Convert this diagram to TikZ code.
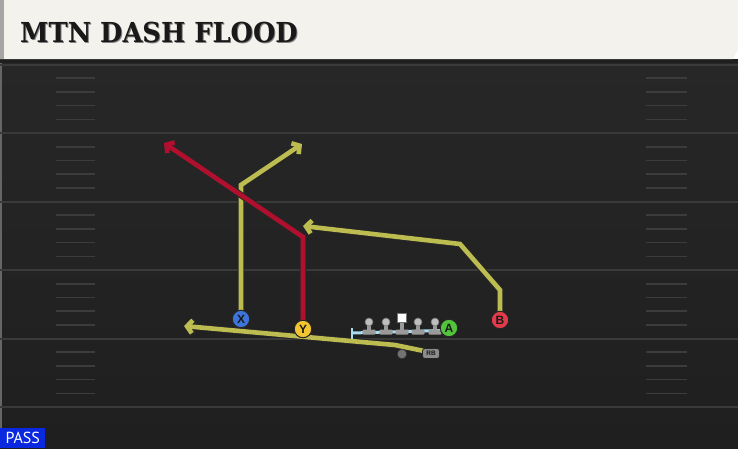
\documentclass[tikz,border=0pt]{standalone}
\usepackage{fontspec}
\usetikzlibrary{arrows.meta}
\newfontfamily\titlefont{DejaVu Serif}
\newfontfamily\lblfont{Liberation Sans}
\newfontfamily\passfont{PT Sans}
\definecolor{fieldtop}{HTML}{272727}
\definecolor{fieldbot}{HTML}{1F1F1F}
\definecolor{fline}{HTML}{3A3A3A}
\definecolor{hash}{HTML}{3C3C3C}
\definecolor{olive}{HTML}{BCBC50}
\definecolor{rred}{HTML}{B0102E}
\definecolor{titlebg}{HTML}{F4F2EC}
\definecolor{pblue}{HTML}{0A28E0}
\definecolor{xblue}{HTML}{3C74DA}
\definecolor{yyel}{HTML}{F2C530}
\definecolor{bred}{HTML}{E23A48}
\definecolor{agreen}{HTML}{52C43C}
\definecolor{prot}{HTML}{A8DCEE}
\definecolor{lmgrey}{HTML}{9A9A9A}
\definecolor{lmlight}{HTML}{BEBEBE}
\tikzset{
  routeout/.style={line width=6.6pt,draw=black!85,line join=miter,-{Straight Barb[length=6pt,width=15pt]}},
  routein/.style={line width=4.6pt,draw=#1,line join=miter,-{Straight Barb[length=5.4pt,width=13pt]}},
  player/.style={circle,minimum size=17.5pt,inner sep=0pt,draw=black!85,line width=1pt,
    font=\lblfont\bfseries\fontsize{12}{12}\selectfont,text=black!90},
  yardline/.style={draw=fline,line width=2pt},
  hashmark/.style={draw=hash,line width=1.6pt},
}
\newcommand\playroute[2]{\draw[routeout] #2; \draw[routein=#1] #2;}
\newcommand\lineman[1]{%
  \fill[lmgrey] (#1-1.8,322) rectangle (#1+1.8,331);
  \fill[lmgrey,rounded corners=1pt] (#1-6.5,329.5) rectangle (#1+6.5,334.5);
  \filldraw[fill=lmlight,draw=black!55,line width=0.6pt] (#1,322) circle (4);}
\begin{document}
\begin{tikzpicture}[x=1pt,y=-1pt]
\useasboundingbox (0,0) rectangle (738,448);
% field
\shade[top color=fieldtop,bottom color=fieldbot] (0,59) rectangle (738,448);
\fill[black!88] (0,59) rectangle (738,63);
\draw[draw=black!60,line width=1.5pt] (1,63) -- (1,448);
\foreach \L in {64.5,133,201.5,270,338.5,407}{
  \draw[yardline] (0,\L) -- (738,\L);}
\foreach \L in {64.5,133,201.5,270,338.5}{
  \foreach \k in {1,2,3,4}{
    \draw[hashmark] (56,\L+13.7*\k) -- (95,\L+13.7*\k);
    \draw[hashmark] (646,\L+13.7*\k) -- (687,\L+13.7*\k);}}
% title bar
\fill[titlebg] (0,0) -- (738,0) -- (738,49) -- (733,59) -- (0,59) -- cycle;
\fill[black!35] (0,0) rectangle (4,59);
\node[anchor=base west,inner sep=0pt,font=\titlefont\bfseries\fontsize{27.5}{27.5}\selectfont,text=black!50] (titleshadow) at (21,43) {\scalebox{0.935}[1]{MTN DASH FLOOD}};
\node[anchor=base west,inner sep=0pt,font=\titlefont\bfseries\fontsize{27.5}{27.5}\selectfont,text=black!90] (title) at (20,42) {\scalebox{0.935}[1]{MTN DASH FLOOD}};
% player positions
\coordinate (px) at (241,319);
\coordinate (py) at (303,329);
\coordinate (pb) at (500,320);
\coordinate (pa) at (449,328);
\coordinate (prb) at (424,351);
\coordinate (xb) at (241,185);
\coordinate (xe) at (302,144);
\coordinate (yb) at (303,237);
\coordinate (ye) at (164,143);
\coordinate (bb1) at (500,290);
\coordinate (bb2) at (460,244);
\coordinate (be) at (303,226);
\coordinate (rbb) at (395,345);
\coordinate (rbe) at (184,326);
% routes
\playroute{olive}{(prb) -- (rbb) -- (rbe)}
\playroute{olive}{(px) -- (xb) -- (xe)}
\playroute{rred}{(py) -- (yb) -- (ye)}
\playroute{olive}{(pb) -- (bb1) -- (bb2) -- (be)}
% protection
\draw[prot,line width=3pt] (352,333) -- (441,330.5);
\draw[prot,line width=2.2pt] (352,327.5) -- (352,338.5);
\lineman{369}
\lineman{386}
\fill[lmgrey] (400.2,322) rectangle (403.8,331);
\fill[lmgrey,rounded corners=1pt] (395.5,329.5) rectangle (408.5,334.5);
\filldraw[fill=white,draw=black!55,line width=0.6pt] (397.5,313.5) rectangle (406.5,322.5);
\lineman{418}
\lineman{435}
% players
\node[player,fill=xblue] (X) at (px) {X};
\node[player,fill=yyel] (Y) at (py) {Y};
\node[player,fill=bred] (B) at (pb) {B};
\node[player,fill=agreen] (A) at (pa) {A};
\filldraw[fill=black!55,draw=black!80,line width=0.6pt] (402,354) circle (4.8);
\node[fill=black!45,draw=black!85,line width=0.8pt,rounded corners=2.5pt,minimum width=17pt,minimum height=10pt,inner sep=0pt,
  font=\lblfont\bfseries\fontsize{6.5}{6.5}\selectfont,text=black!90] (RB) at (431,353.5) {RB};
% pass label
\node[fill=pblue,anchor=south west,minimum width=45pt,minimum height=20pt,inner sep=0pt,text=white,
  font=\passfont\fontsize{16}{16}\selectfont] (pass) at (0,448) {PASS};
\end{tikzpicture}
\end{document}
